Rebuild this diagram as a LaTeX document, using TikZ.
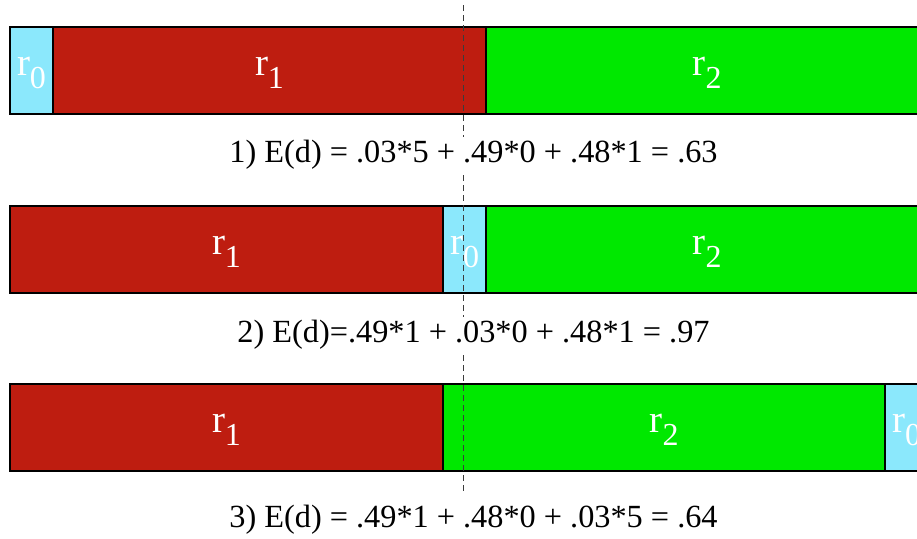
\documentclass[tikz,border=0pt]{standalone}
\usepackage{fontspec}
\setmainfont{Liberation Serif}
\definecolor{cy}{RGB}{139,232,252}
\definecolor{rd}{RGB}{190,29,16}
\definecolor{gr}{RGB}{0,232,0}
\newcommand\rlab[1]{\fontsize{39}{40}\selectfont r\raisebox{-13pt}{\fontsize{32}{33}\selectfont #1}}
\tikzset{
  seg/.style={draw=black, line width=1.2pt, rectangle, minimum height=87pt, inner sep=0pt, anchor=north west, outer sep=0pt},
  lab/.style={text=white, anchor=base, inner sep=0pt},
  eq/.style={fill=white, anchor=base, inner sep=3pt, font=\fontsize{32.3}{34}\selectfont},
  cut/.style={draw={rgb,255:red,60;green,60;blue,60}, line width=1.5pt, dash pattern=on 6pt off 4pt}
}
\begin{document}
\begin{tikzpicture}[x=1pt,y=-1pt]
\useasboundingbox (0,0) rectangle (917,538);
\clip (0,0) rectangle (917,538);
% row 1
\node[seg, fill=cy, minimum width=43pt] (a0) at (10,27) {};
\node[seg, fill=rd, minimum width=433pt] (a1) at (53,27) {};
\node[seg, fill=gr, minimum width=442pt] (a2) at (486,27) {};
% row 2
\node[seg, fill=rd, minimum width=433pt] (b1) at (10,206) {};
\node[seg, fill=cy, minimum width=43pt] (b0) at (443,206) {};
\node[seg, fill=gr, minimum width=442pt] (b2) at (486,206) {};
% row 3
\node[seg, fill=rd, minimum width=433pt] (c1) at (10,384) {};
\node[seg, fill=gr, minimum width=442pt] (c2) at (443,384) {};
\node[seg, fill=cy, minimum width=43pt] (c0) at (885,384) {};
% labels
\foreach \n/\d in {a0/0,a1/1,a2/2,b0/0,b1/1,b2/2,c0/0,c1/1,c2/2}
  \node[lab] (l\n) at ([yshift=-4.5pt]\n.center) {\rlab{\d}};
% dashed cut line
\coordinate (top) at (463.5,5);
\coordinate (bot) at (463.5,493);
\draw[cut] (top) -- (bot);
% equations
\node[eq] (e1) at (473.5,162) {1) E(d) = .03*5 + .49*0 + .48*1 = .63};
\node[eq] (e2) at (473.5,342) {2) E(d)=.49*1 + .03*0 + .48*1 = .97};
\node[eq] (e3) at (473.5,527) {3) E(d) = .49*1 + .48*0 + .03*5 = .64};
\end{tikzpicture}
\end{document}
